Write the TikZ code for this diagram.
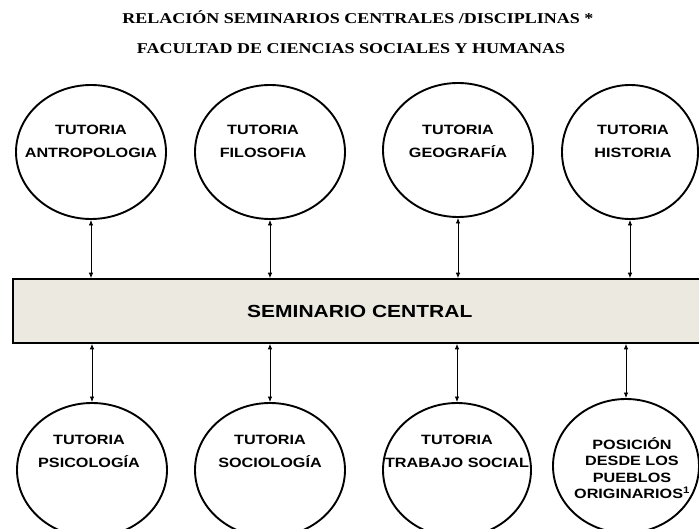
\documentclass[tikz,border=0pt]{standalone}
\usepackage{fontspec}
\newfontfamily\tutfont[FakeStretch=1.2]{Liberation Sans}
\newfontfamily\titfont[FakeStretch=1.2]{Liberation Serif}
\usetikzlibrary{shapes.geometric,arrows.meta}
\definecolor{semfill}{RGB}{236,233,224}

\begin{document}
\begin{tikzpicture}[
  x = 1pt, y = -1pt,
  > = {Latex[length=5.5pt,width=4.5pt]},
  tutoria/.style = {draw,ellipse,line width=1.9pt,inner sep=0pt,minimum width=150pt,minimum height=134pt},
  tut/.style = {font=\tutfont\bfseries\fontsize{13.5}{23}\selectfont,align=center,inner sep=0pt},
  titulo/.style = {font=\titfont\bfseries\fontsize{15}{18}\selectfont},
  link/.style = {<->,line width=0.8pt}
  ]
  \useasboundingbox (0,0) rectangle (699,529);
  \clip (0,0) rectangle (699,529);

  \node[titulo] (tit1) at (358,17) {RELACIÓN SEMINARIOS CENTRALES /DISCIPLINAS *};
  \node[titulo] (tit2) at (351,49) {FACULTAD DE CIENCIAS SOCIALES Y HUMANAS};

  \node[draw,line width=1.6pt,fill=semfill,anchor=west,minimum width=694pt,minimum height=64pt,
    font=\tutfont\bfseries\fontsize{17.5}{20}\selectfont] (sem) at (12,311) {SEMINARIO CENTRAL};

  % tutorias de arriba
  \node[tutoria] (antro) at (91,152) {};
  \node[tutoria] (filo) at (270,152) {};
  \node[tutoria] (geo) at (458,150) {};
  \node[tutoria,minimum width=136pt] (hist) at (630,152) {};
  \node[tut] (antro-t) at ([yshift=10.5pt]antro.center) {TUTORIA\\ANTROPOLOGIA};
  \node[tut] (filo-t) at ([xshift=-7pt,yshift=10.5pt]filo.center) {TUTORIA\\FILOSOFIA};
  \node[tut] (geo-t) at ([yshift=8.5pt]geo.center) {TUTORIA\\GEOGRAFÍA};
  \node[tut] (hist-t) at ([xshift=3pt,yshift=10.5pt]hist.center) {TUTORIA\\HISTORIA};

  % tutorias de abajo
  \node[tutoria] (psico) at (92,470) {};
  \node[tutoria] (socio) at (270,470) {};
  \node[tutoria,minimum width=148pt] (trab) at (457,470) {};
  \node[tutoria,minimum width=146pt] (pueb) at (626,466) {};
  \node[tut] (psico-t) at ([xshift=-3pt,yshift=19pt]psico.center) {TUTORIA\\PSICOLOGÍA};
  \node[tut] (socio-t) at ([yshift=19pt]socio.center) {TUTORIA\\SOCIOLOGÍA};
  \node[tut] (trab-t) at ([yshift=19pt]trab.center) {TUTORIA\\TRABAJO SOCIAL};
  \node[tut,font=\tutfont\bfseries\fontsize{13.5}{16.5}\selectfont] (pueb-t) at ([xshift=6pt,yshift=-2pt]pueb.center)
    {POSICIÓN\\DESDE LOS\\PUEBLOS\\ORIGINARIOS\textsuperscript{1}};

  \draw[link] (antro.south) -- (antro.south |- sem.north);
  \draw[link] (filo.south) -- (filo.south |- sem.north);
  \draw[link] (geo.south) -- (geo.south |- sem.north);
  \draw[link] (hist.south) -- (hist.south |- sem.north);
  \draw[link] (sem.south -| psico.north) -- (psico.north);
  \draw[link] (sem.south -| socio.north) -- (socio.north);
  \draw[link] (sem.south -| trab.north) -- (trab.north);
  \draw[link] (sem.south -| pueb.north) -- (pueb.north);
\end{tikzpicture}
\end{document}
